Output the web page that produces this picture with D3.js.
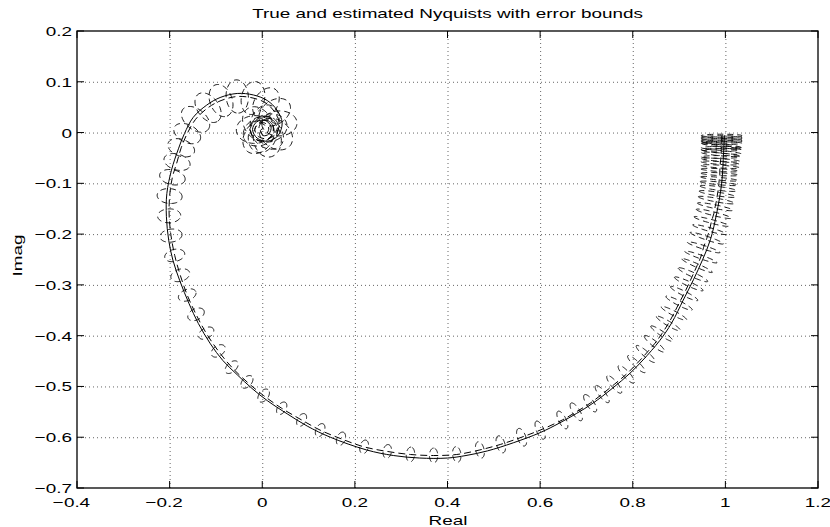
<!DOCTYPE html>
<html lang="en">
<head>
<meta charset="UTF-8">
<title>True and estimated Nyquists with error bounds</title>
<script src="https://d3js.org/d3.v7.min.js"></script>
<style>
  body { margin: 0; background: #fff; }
  svg { display: block; background: #fff; }
  text { font-family: "Liberation Sans", Arial, Helvetica, sans-serif; fill: #000; }
</style>
</head>
<body>
<svg id="chart" width="830" height="527"></svg>
<script>
// axis ticks
const xTicks = [-0.4, -0.2, 0, 0.2, 0.4, 0.6, 0.8, 1, 1.2];
const xTickLabels = ["\u22120.4", "\u22120.2", "0", "0.2", "0.4", "0.6", "0.8", "1", "1.2"];
const yTicks = [0.2, 0.1, 0, -0.1, -0.2, -0.3, -0.4, -0.5, -0.6, -0.7];
const yTickLabels = ["0.2", "0.1", "0", "\u22120.1", "\u22120.2", "\u22120.3", "\u22120.4", "\u22120.5", "\u22120.6", "\u22120.7"];

// true Nyquist curve
const trueRe = [0.998, 0.996, 0.992, 0.981, 0.968, 0.951, 0.931, 0.909, 0.884, 0.858, 0.822, 0.794, 0.757,
  0.714, 0.679, 0.642, 0.600, 0.542, 0.486, 0.440, 0.400, 0.340, 0.283, 0.225, 0.147, 0.097, 0.054, 0.011,
  -0.022, -0.054, -0.085, -0.112, -0.138, -0.158, -0.178, -0.193, -0.202, -0.207, -0.206, -0.196, -0.181,
  -0.168, -0.149, -0.120, -0.091, -0.054, -0.019, 0.011, 0.032, 0.043, 0.034, 0.012, -0.011, -0.021, -0.012,
  0.006, 0.019, 0.014, 0.002, -0.004, 0.002];
const trueIm = [-0.005, -0.040, -0.100, -0.160, -0.210, -0.250, -0.290, -0.330, -0.375, -0.410, -0.448, -0.474, -0.503,
  -0.533, -0.553, -0.572, -0.591, -0.611, -0.627, -0.636, -0.641, -0.641, -0.636, -0.625, -0.600, -0.578, -0.554, -0.528,
  -0.504, -0.477, -0.449, -0.416, -0.376, -0.337, -0.292, -0.251, -0.212, -0.165, -0.120, -0.074, -0.032,
  -0.002, 0.030, 0.054, 0.069, 0.077, 0.074, 0.063, 0.044, 0.019, -0.006, -0.017, -0.011, 0.006, 0.021,
  0.024, 0.012, -0.003, -0.006, 0.004, 0.008];

// estimated Nyquist points (centres of the error ellipses)
const estRe = [0.992, 0.992, 0.992, 0.992, 0.992, 0.992, 0.992, 0.991, 0.991, 0.991, 0.991, 0.990, 0.990, 0.990,
  0.989, 0.989, 0.988, 0.988, 0.987, 0.986, 0.985, 0.983, 0.981, 0.978, 0.975, 0.970, 0.966, 0.960, 0.953,
  0.947, 0.939, 0.930, 0.921, 0.911, 0.900, 0.889, 0.877, 0.863, 0.847, 0.828, 0.808, 0.786, 0.760, 0.734,
  0.708, 0.678, 0.648,
  0.600, 0.560, 0.515, 0.470, 0.420, 0.370, 0.320, 0.270, 0.220, 0.170, 0.125,
  0.085, 0.042, 0.003, -0.033, -0.066, -0.095, -0.121, -0.143, -0.162, -0.177, -0.189,
  -0.197, -0.201, -0.200, -0.194, -0.184, -0.175, -0.162,
  -0.144, -0.117, -0.089, -0.054, -0.020, 0.008, 0.027, 0.037,
  0.029, 0.011, -0.008, -0.016, -0.009, 0.005, 0.014, 0.010, 0.001, -0.003];
const estIm = [-0.006, -0.009, -0.012, -0.015, -0.018, -0.021, -0.024, -0.027, -0.030, -0.034, -0.038, -0.043, -0.048, -0.054,
  -0.060, -0.067, -0.074, -0.082, -0.091, -0.100, -0.110, -0.121, -0.133, -0.146, -0.160, -0.175, -0.191, -0.208, -0.226,
  -0.245, -0.262, -0.280, -0.298, -0.317, -0.336, -0.356, -0.376, -0.396, -0.416, -0.436, -0.456, -0.476, -0.496, -0.515,
  -0.533, -0.550, -0.566,
  -0.586, -0.600, -0.614, -0.625, -0.634, -0.636, -0.634, -0.628, -0.619, -0.603, -0.586,
  -0.566, -0.543, -0.518, -0.491, -0.462, -0.430, -0.395, -0.358, -0.320, -0.281, -0.242,
  -0.203, -0.164, -0.125, -0.088, -0.058, -0.030, -0.002,
  0.026, 0.049, 0.063, 0.071, 0.068, 0.058, 0.040, 0.018,
  -0.003, -0.012, -0.008, 0.006, 0.017, 0.019, 0.009, -0.001, -0.004, 0.003];

// error bounds: semi-axis across the curve (errA) and along it (errB)
const errA = [0.044, 0.044, 0.044, 0.044, 0.044, 0.043, 0.043, 0.043, 0.043, 0.043, 0.043, 0.042, 0.042, 0.042,
  0.042, 0.042, 0.041, 0.041, 0.041, 0.041, 0.040, 0.040, 0.040, 0.039, 0.039, 0.039, 0.038, 0.038, 0.037,
  0.037, 0.036, 0.035, 0.034, 0.033, 0.032, 0.031, 0.030, 0.029, 0.028, 0.027, 0.026, 0.025, 0.024, 0.023,
  0.022, 0.022, 0.021,
  0.021, 0.020, 0.019, 0.018, 0.017, 0.016, 0.016, 0.015, 0.015, 0.015, 0.015,
  0.015, 0.015, 0.016, 0.016, 0.017, 0.017, 0.018, 0.019, 0.020, 0.021, 0.022,
  0.024, 0.025, 0.027, 0.028, 0.029, 0.030, 0.031,
  0.035, 0.036, 0.036, 0.036, 0.036, 0.036, 0.037, 0.038,
  0.040, 0.040, 0.040, 0.040, 0.040, 0.040, 0.040, 0.040, 0.040, 0.040];
const errB = [0.003, 0.003, 0.003, 0.003, 0.003, 0.003, 0.003, 0.003, 0.003, 0.003, 0.003, 0.003, 0.003, 0.003,
  0.003, 0.003, 0.003, 0.003, 0.003, 0.003, 0.004, 0.004, 0.004, 0.004, 0.004, 0.004, 0.004, 0.004, 0.004,
  0.004, 0.004, 0.005, 0.005, 0.005, 0.005, 0.005, 0.005, 0.005, 0.006, 0.006, 0.006, 0.007, 0.007, 0.007,
  0.008, 0.008, 0.008,
  0.008, 0.009, 0.009, 0.009, 0.009, 0.009, 0.009, 0.009, 0.009, 0.009, 0.009,
  0.009, 0.009, 0.010, 0.010, 0.010, 0.011, 0.011, 0.012, 0.012, 0.013, 0.013,
  0.014, 0.015, 0.016, 0.016, 0.017, 0.018, 0.019,
  0.022, 0.023, 0.024, 0.024, 0.025, 0.025, 0.026, 0.027,
  0.030, 0.030, 0.030, 0.030, 0.030, 0.030, 0.030, 0.030, 0.030, 0.030];

const svg = d3.select("#chart");
const plotLeft = 77, plotRight = 818, plotTop = 31, plotBottom = 488;
const stretch = 1.4;   // wide text as in the original figure

const x = d3.scaleLinear().domain([-0.4, 1.2]).range([plotLeft, plotRight]);
const y = d3.scaleLinear().domain([-0.7, 0.2]).range([plotBottom, plotTop]);

// grid
const grid = svg.append("g")
    .attr("stroke", "#666")
    .attr("stroke-width", 1)
    .attr("stroke-dasharray", "1,3");
grid.selectAll("line.gx")
    .data(xTicks.slice(1, -1))
    .enter().append("line")
    .attr("x1", d => x(d) + 0.5).attr("x2", d => x(d) + 0.5)
    .attr("y1", plotTop).attr("y2", plotBottom);
grid.selectAll("line.gy")
    .data(yTicks.slice(1, -1))
    .enter().append("line")
    .attr("y1", d => y(d) + 0.5).attr("y2", d => y(d) + 0.5)
    .attr("x1", plotLeft).attr("x2", plotRight);

const plot = svg.append("g").attr("fill", "none").attr("stroke", "#000");

// error ellipses around the estimate, long axis across the curve
const k = x(1) - x(0);
const estPts = estRe.map((r, i) => [x(r), y(estIm[i])]);
const closed = d3.line().curve(d3.curveLinearClosed);
estPts.forEach((p, i) => {
    const prev = estPts[Math.max(0, i - 1)];
    const next = estPts[Math.min(estPts.length - 1, i + 1)];
    let tx = next[0] - prev[0], ty = next[1] - prev[1];
    const len = Math.hypot(tx, ty) || 1;
    tx /= len; ty /= len;
    const nx = -ty, ny = tx;
    const a = errA[i] * k, b = errB[i] * k;
    const pts = d3.range(60).map(j => {
        const t = j / 60 * 2 * Math.PI;
        return [p[0] + a * Math.cos(t) * nx + b * Math.sin(t) * tx,
                p[1] + a * Math.cos(t) * ny + b * Math.sin(t) * ty];
    });
    plot.append("path")
        .attr("d", closed(pts))
        .attr("stroke-width", 0.9)
        .attr("stroke-dasharray", "6,4");
});

// estimated curve (dashed)
const curveLine = d3.line().curve(d3.curveCatmullRom);
plot.append("path")
    .attr("d", curveLine(estPts))
    .attr("stroke-width", 1)
    .attr("stroke-dasharray", "7,4");

// true curve (solid)
plot.append("path")
    .attr("d", curveLine(trueRe.map((r, i) => [x(r), y(trueIm[i])])))
    .attr("stroke-width", 1);

// box and ticks
const axes = svg.append("g").attr("stroke", "#000").attr("fill", "none");
axes.append("rect")
    .attr("x", plotLeft).attr("y", plotTop)
    .attr("width", plotRight - plotLeft).attr("height", plotBottom - plotTop)
    .attr("stroke-width", 1.3);
const tl = 7;
xTicks.forEach(d => {
    axes.append("line").attr("x1", x(d)).attr("x2", x(d)).attr("y1", plotBottom).attr("y2", plotBottom - tl);
    axes.append("line").attr("x1", x(d)).attr("x2", x(d)).attr("y1", plotTop).attr("y2", plotTop + tl);
});
yTicks.forEach(d => {
    axes.append("line").attr("y1", y(d)).attr("y2", y(d)).attr("x1", plotLeft).attr("x2", plotLeft + tl);
    axes.append("line").attr("y1", y(d)).attr("y2", y(d)).attr("x1", plotRight).attr("x2", plotRight - tl);
});

// measure the minus sign so negative x labels centre on their digits
const probe = svg.append("text").style("font-size", "13.5px").text("\u2212");
const minusW = probe.node().getComputedTextLength();
probe.remove();

svg.selectAll("text.xt")
    .data(xTicks)
    .enter().append("text")
    .attr("class", "xt")
    .attr("transform", d => `translate(${x(d)},507) scale(${stretch},1)`)
    .attr("text-anchor", "middle")
    .attr("dx", d => d < 0 ? -minusW / 2 : 0)
    .style("font-size", "13.5px")
    .text((d, i) => xTickLabels[i]);

svg.selectAll("text.yt")
    .data(yTicks)
    .enter().append("text")
    .attr("class", "yt")
    .attr("transform", d => `translate(72,${y(d) + 5}) scale(${stretch},1)`)
    .attr("text-anchor", "end")
    .style("font-size", "13.5px")
    .text((d, i) => yTickLabels[i]);

// labels and title
svg.append("text")
    .attr("transform", `translate(448,525) scale(${stretch},1)`)
    .attr("text-anchor", "middle")
    .style("font-size", "13.5px")
    .text("Real");

svg.append("text")
    .attr("transform", `translate(22,${(plotTop + plotBottom) / 2 - 4}) rotate(-90) scale(${stretch},1)`)
    .attr("text-anchor", "middle")
    .style("font-size", "13.5px")
    .text("Imag");

svg.append("text")
    .attr("transform", `translate(${(plotLeft + plotRight) / 2},18) scale(${stretch},1)`)
    .attr("text-anchor", "middle")
    .style("font-size", "13.5px")
    .text("True and estimated Nyquists with error bounds");
</script>
</body>
</html>
